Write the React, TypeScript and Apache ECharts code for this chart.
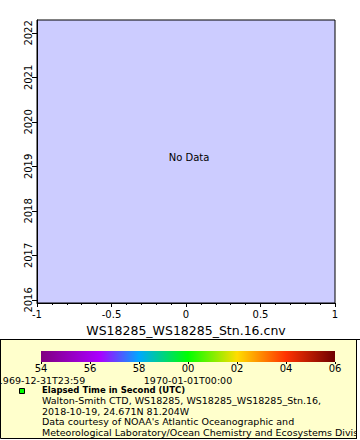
import React, { useEffect, useRef } from "react";
import * as echarts from "echarts";

const xTicks = [-1, -0.5, 0, 0.5, 1];
const yYears = [2016, 2017, 2018, 2019, 2020, 2021, 2022];
const seriesData: [number, number][] = [];
const xTitle = "WS18285_WS18285_Stn.16.cnv";
const cbTickLabels = ["54", "56", "58", "00", "02", "04", "06"];
const cbTimeLabels = ["1969-12-31T23:59", "1970-01-01T00:00"];
const legendTitle = "Elapsed Time in Second (UTC)";
const legendLines = [
  "Walton-Smith CTD, WS18285, WS18285_WS18285_Stn.16,",
  "2018-10-19, 24.671N 81.204W",
  "Data courtesy of NOAA's Atlantic Oceanographic and",
  "Meteorological Laboratory/Ocean Chemistry and Ecosystems Division",
];
const cbStops = [
  [0, "#800080"],
  [0.2, "#aa00ff"],
  [0.333, "#00a8ff"],
  [0.5, "#00ff00"],
  [0.667, "#ffdd00"],
  [0.833, "#ff3300"],
  [1, "#6e0000"],
] as [number, string][];

const FONT = "DejaVu Sans";

export default function App() {
  const ref = useRef<HTMLDivElement>(null);
  useEffect(() => {
    if (!ref.current) return;
    const chart = echarts.init(ref.current, null, { renderer: "svg" });
    const legendLineY = [400.5, 411, 421.5, 432];
    const option: any = {
      animation: false,
      backgroundColor: "#ffffff",
      textStyle: { fontFamily: FONT },
      grid: [
        {
          left: 37,
          top: 20,
          width: 298,
          height: 283,
          show: true,
          backgroundColor: "#ccccff",
          borderColor: "#000",
          borderWidth: 1,
        },
        { left: 41, top: 351, width: 294, height: 11, show: false },
      ],
      xAxis: [
        {
          type: "value",
          gridIndex: 0,
          min: xTicks[0],
          max: xTicks[xTicks.length - 1],
          interval: 0.5,
          name: xTitle,
          nameLocation: "middle",
          nameGap: 17,
          nameTextStyle: { fontFamily: FONT, fontSize: 12.5, color: "#000", verticalAlign: "top" },
          axisLine: { show: true, onZero: false, lineStyle: { color: "#000", width: 1 } },
          axisTick: { show: true, inside: false, length: 4, lineStyle: { color: "#000" } },
          minorTick: { show: true, splitNumber: 5, length: 2, lineStyle: { color: "#000" } },
          axisLabel: {
            margin: 6,
            fontFamily: FONT,
            fontSize: 10,
            color: "#000",
            formatter: (v: number) => String(v),
          },
          splitLine: { show: false },
        },
        {
          type: "value",
          gridIndex: 1,
          min: 0,
          max: 12,
          interval: 2,
          position: "bottom",
          axisLine: { show: false },
          axisTick: { show: true, length: 2, lineStyle: { color: "#000" } },
          axisLabel: {
            margin: 1,
            fontFamily: FONT,
            fontSize: 10,
            color: "#000",
            formatter: (v: number) => cbTickLabels[Math.round(v / 2)] ?? "",
          },
          splitLine: { show: false },
        },
      ],
      yAxis: [
        {
          type: "value",
          gridIndex: 0,
          min: 2015.93,
          max: 2022.29,
          axisLine: { show: true, onZero: false, lineStyle: { color: "#000", width: 1 } },
          axisTick: { show: true, length: 5, customValues: yYears, lineStyle: { color: "#000" } },
          axisLabel: {
            customValues: yYears,
            rotate: 90,
            margin: 4,
            fontFamily: FONT,
            fontSize: 10,
            color: "#000",
            formatter: (v: number) => String(v),
          },
          splitLine: { show: false },
        },
        { type: "value", gridIndex: 1, show: false, min: 0, max: 1 },
      ],
      series: [
        {
          type: "scatter",
          xAxisIndex: 0,
          yAxisIndex: 0,
          data: seriesData,
          symbolSize: 4,
        },
      ],
      graphic: [
        {
          type: "rect",
          z: -10,
          shape: { x: 0.5, y: 339.5, width: 356, height: 99 },
          style: { fill: "#ffffcc", stroke: "#000", lineWidth: 1 },
        },
        {
          type: "rect",
          z: 5,
          shape: { x: 41, y: 351, width: 294, height: 11 },
          style: {
            fill: new echarts.graphic.LinearGradient(
              0,
              0,
              1,
              0,
              cbStops.map(([offset, color]) => ({ offset, color }))
            ),
          },
        },
        {
          type: "text",
          z: 5,
          x: 41,
          y: 380,
          style: {
            text: cbTimeLabels[0],
            font: `9.5px '${FONT}'`,
            fill: "#000",
            align: "center",
            verticalAlign: "middle",
          },
        },
        {
          type: "text",
          z: 5,
          x: 188,
          y: 380,
          style: {
            text: cbTimeLabels[1],
            font: `9.5px '${FONT}'`,
            fill: "#000",
            align: "center",
            verticalAlign: "middle",
          },
        },
        {
          type: "rect",
          z: 5,
          shape: { x: 19.5, y: 388.5, width: 5, height: 5 },
          style: { fill: "#00ff00", stroke: "#000", lineWidth: 1 },
        },
        {
          type: "text",
          z: 5,
          x: 42,
          y: 390,
          style: {
            text: legendTitle,
            font: `bold 8.5px '${FONT}'`,
            fill: "#000",
            align: "left",
            verticalAlign: "middle",
          },
        },
        ...legendLines.map((t, i) => ({
          type: "text",
          z: 5,
          x: 42,
          y: legendLineY[i],
          style: {
            text: t,
            font: `9.5px '${FONT}'`,
            fill: "#000",
            align: "left",
            verticalAlign: "middle",
          },
        })),
        {
          type: "rect",
          z: 10,
          shape: { x: 357, y: 340, width: 3, height: 100 },
          style: { fill: "#ffffff" },
        },
        {
          type: "line",
          z: 11,
          shape: { x1: 356.5, y1: 339.5, x2: 356.5, y2: 439 },
          style: { stroke: "#000", lineWidth: 1 },
        },
        {
          type: "line",
          z: 11,
          shape: { x1: 0, y1: 339.5, x2: 360, y2: 339.5 },
          style: { stroke: "#000", lineWidth: 1 },
        },
        {
          type: "text",
          z: 5,
          x: 189,
          y: 157,
          style: {
            text: "No Data",
            font: `10px '${FONT}'`,
            fill: "#000",
            align: "center",
            verticalAlign: "middle",
          },
        },
      ],
    };
    chart.setOption(option);
    return () => chart.dispose();
  }, []);
  return (
    <div
      ref={ref}
      style={{ position: "fixed", left: 0, top: 0, width: 360, height: 440 }}
    />
  );
}
